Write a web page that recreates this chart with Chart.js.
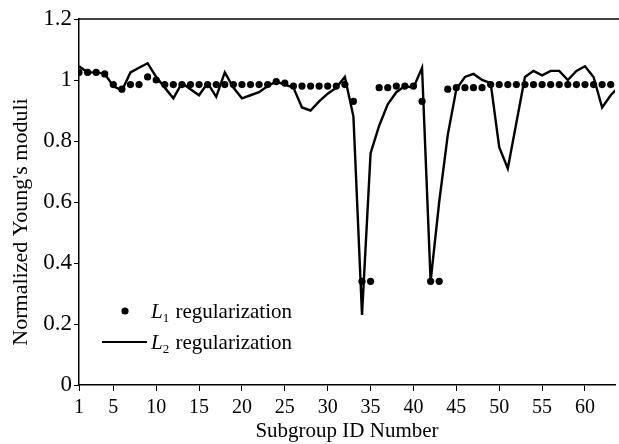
<!DOCTYPE html>
<html>
<head>
<meta charset="utf-8">
<script src="https://cdn.jsdelivr.net/npm/chart.js@4.4.1/dist/chart.umd.min.js"></script>
<style>
  html, body { margin: 0; padding: 0; background: #fff; }
  #c { display: block; }
</style>
</head>
<body>
<canvas id="c" width="619" height="444"></canvas>
<script>
// --- data ---
const subgroupIds = Array.from({ length: 64 }, (_, i) => i + 1);
const xTickValues = [1, 5, 10, 15, 20, 25, 30, 35, 40, 45, 50, 55, 60];
const seriesNames = ['L1 regularization', 'L2 regularization'];
const yTitle = "Normalized Young's moduli";

const l1Values = [
  1.025, 1.025, 1.025, 1.02, 0.985, 0.97, 0.985, 0.985, 1.01, 1.0,
  0.985, 0.985, 0.985, 0.985, 0.985, 0.985, 0.985, 0.985, 0.985, 0.985,
  0.985, 0.985, 0.985, 0.995, 0.99, 0.98, 0.98, 0.98, 0.98, 0.98,
  0.98, 0.985, 0.93, 0.34, 0.34, 0.975, 0.975, 0.98, 0.98, 0.98,
  0.93, 0.34, 0.34, 0.97, 0.975, 0.975, 0.975, 0.975, 0.985, 0.985,
  0.985, 0.985, 0.985, 0.985, 0.985, 0.985, 0.985, 0.985, 0.985, 0.985,
  0.985, 0.985, 0.985, 0.98
];

const l2Values = [
  1.045, 1.025, 1.025, 1.02, 0.98, 0.965, 1.025, 1.04, 1.055, 1.01,
  0.975, 0.94, 0.99, 0.97, 0.95, 0.99, 0.945, 1.025, 0.975, 0.94,
  0.95, 0.96, 0.98, 0.995, 0.985, 0.975, 0.91, 0.9, 0.93, 0.955,
  0.975, 1.01, 0.88, 0.23, 0.76, 0.85, 0.92, 0.96, 0.98, 0.975,
  1.04, 0.34, 0.6, 0.82, 0.97, 1.01, 1.02, 1.0, 0.99, 0.78,
  0.71, 0.86, 1.01, 1.03, 1.015, 1.03, 1.03, 1.0, 1.03, 1.045,
  1.01, 0.91, 0.95, 0.98
];

const serif = '"Liberation Serif", "DejaVu Serif", serif';

// top edge of the frame + y axis title (sits a bit below centre in the scan)
const frameTop = {
  id: 'frameTop',
  afterDraw(chart) {
    const { ctx, chartArea } = chart;
    ctx.save();
    ctx.strokeStyle = '#000';
    ctx.lineWidth = 1.5;
    ctx.beginPath();
    ctx.moveTo(chartArea.left, chartArea.top);
    ctx.lineTo(chart.width, chartArea.top);
    ctx.stroke();

    ctx.translate(21, 222);
    ctx.rotate(-Math.PI / 2);
    ctx.fillStyle = '#000';
    ctx.font = '22px ' + serif;
    ctx.textAlign = 'center';
    ctx.textBaseline = 'middle';
    ctx.fillText(yTitle, 0, 0);
    ctx.restore();
  }
};

// legend inside the plot: italic L with subscript digit
const innerLegend = {
  id: 'innerLegend',
  afterDraw(chart) {
    const ctx = chart.ctx;
    const rows = [
      { y: 311, ds: 0 },
      { y: 342, ds: 1 }
    ];
    ctx.save();
    ctx.fillStyle = '#000';
    ctx.strokeStyle = '#000';
    ctx.textBaseline = 'alphabetic';
    rows.forEach(r => {
      const name = chart.data.datasets[r.ds].label;
      if (r.ds === 0) {
        ctx.beginPath();
        ctx.arc(125, r.y, 3.6, 0, Math.PI * 2);
        ctx.fill();
      } else {
        ctx.lineWidth = 2;
        ctx.beginPath();
        ctx.moveTo(102, r.y);
        ctx.lineTo(147, r.y);
        ctx.stroke();
      }
      let x = 151;
      const base = r.y + 7;
      ctx.font = 'italic 21px ' + serif;
      ctx.fillText(name[0], x, base);
      x += ctx.measureText(name[0]).width;
      ctx.font = '13px ' + serif;
      ctx.fillText(name[1], x, base + 4);
      x += ctx.measureText(name[1]).width + 1;
      ctx.font = '21px ' + serif;
      ctx.fillText(name.slice(2), x, base);
    });
    ctx.restore();
  }
};

new Chart(document.getElementById('c'), {
  type: 'line',
  data: {
    labels: subgroupIds,
    datasets: [
      {
        label: seriesNames[0],
        data: subgroupIds.map((x, i) => ({ x, y: l1Values[i] })),
        showLine: false,
        pointRadius: 3.6,
        pointBackgroundColor: '#000',
        pointBorderColor: '#000',
        pointBorderWidth: 0
      },
      {
        label: seriesNames[1],
        data: subgroupIds.map((x, i) => ({ x, y: l2Values[i] })),
        borderColor: '#000',
        borderWidth: 2.4,
        pointRadius: 0,
        tension: 0,
        fill: false
      }
    ]
  },
  options: {
    responsive: false,
    devicePixelRatio: 1,
    animation: false,
    layout: { padding: { top: 19, right: 0, left: 0, bottom: 0 } },
    plugins: { legend: { display: false }, tooltip: { enabled: false } },
    scales: {
      x: {
        type: 'linear',
        min: 1,
        max: 63.5,
        afterBuildTicks: s => { s.ticks = xTickValues.map(v => ({ value: v })); },
        afterFit: s => { s.height = 59; s.paddingLeft = 0; s.paddingRight = 0; },
        grid: { display: true, drawOnChartArea: false, tickLength: 6, color: '#000', lineWidth: 1 },
        border: { display: true, color: '#000', width: 1.5 },
        ticks: { color: '#000', font: { family: serif, size: 20 }, padding: 5, maxRotation: 0, autoSkip: false },
        title: { display: true, text: 'Subgroup ID Number', color: '#000', font: { family: serif, size: 21 }, padding: { top: 0, bottom: 0 } }
      },
      y: {
        min: 0,
        max: 1.2,
        afterFit: s => { s.width = 79; s.paddingTop = 0; s.paddingBottom = 0; },
        grid: { display: true, drawOnChartArea: false, tickLength: 5, color: '#000', lineWidth: 1 },
        border: { display: true, color: '#000', width: 1.5 },
        ticks: {
          stepSize: 0.2,
          color: '#000',
          font: { family: serif, size: 23 },
          padding: 2,
          callback: v => String(Math.round(v * 10) / 10)
        },
        title: { display: false }
      }
    }
  },
  plugins: [frameTop, innerLegend]
});
</script>
</body>
</html>
